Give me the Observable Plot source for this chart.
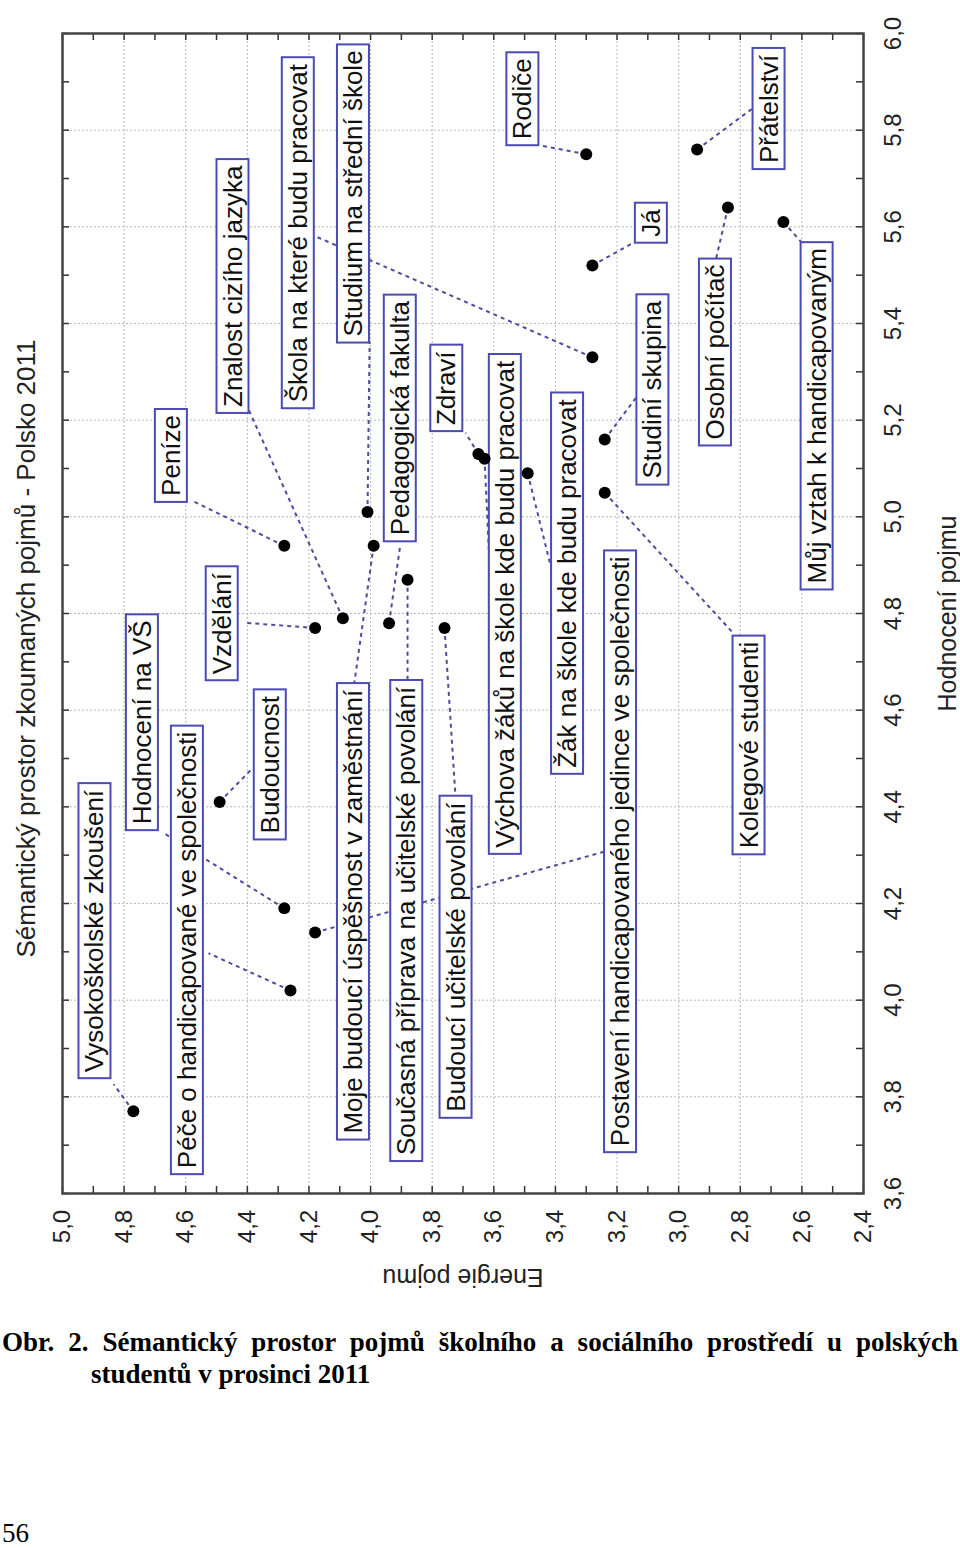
<!DOCTYPE html>
<html>
<head>
<meta charset="utf-8">
<script src="https://cdn.jsdelivr.net/npm/d3@7"></script>
<script src="https://cdn.jsdelivr.net/npm/@observablehq/plot@0.6"></script>
<style>
  html, body { margin: 0; padding: 0; background: #fff; }
  body { width: 960px; height: 1548px; position: relative; overflow: hidden; }
  #chart { position: absolute; left: 0; top: 0; }
  .cap { position: absolute; left: 0; top: 1326px; width: 867px; padding-left: 91px; text-indent: -89px;
         font: bold 27px/32px "Liberation Serif", "Times New Roman", serif; text-align: justify; color: #000; }
  .page { position: absolute; left: 2px; top: 1520px; font: 27px/27px "Liberation Serif", "Times New Roman", serif; color: #000; }
</style>
</head>
<body>
<div id="chart"></div>
<div class="cap">Obr. 2. Sémantický prostor pojmů školního a sociálního prostředí u polských studentů v prosinci 2011</div>
<div class="page">56</div>
<script>
const title = "Sémantický prostor zkoumaných pojmů - Polsko 2011";
const xLabel = "Energie pojmu";
const yLabel = "Hodnocení pojmu";

const concepts = [
  "Vysokoškolské zkoušení", "Péče o handicapované ve společnosti", "Hodnocení na VŠ", "Budoucnost",
  "Vzdělání", "Peníze", "Znalost cizího jazyka", "Moje budoucí úspěšnost v zaměstnání",
  "Studium na střední škole", "Pedagogická fakulta", "Současná příprava na učitelské povolání",
  "Budoucí učitelské povolání", "Postavení handicapovaného jedince ve společnosti", "Zdraví",
  "Výchova žáků na škole kde budu pracovat", "Žák na škole kde budu pracovat",
  "Škola na které budu pracovat", "Rodiče", "Já", "Studiní skupina", "Kolegové studenti",
  "Přátelství", "Osobní počítač", "Můj vztah k handicapovaným"
];
// Energie pojmu (point)
const energy = [4.77, 4.26, 4.28, 4.49, 4.18, 4.28, 4.09, 3.99, 4.01, 3.94, 3.88, 3.76,
                4.18, 3.65, 3.63, 3.49, 3.28, 3.30, 3.28, 3.24, 3.24, 2.94, 2.84, 2.66];
// Hodnocení pojmu (point)
const rating = [3.77, 4.02, 4.19, 4.41, 4.77, 4.94, 4.79, 4.94, 5.01, 4.78, 4.87, 4.77,
                4.14, 5.13, 5.12, 5.09, 5.33, 5.75, 5.52, 5.16, 5.05, 5.76, 5.64, 5.61];
// label anchor (data units)
const labelEnergy = [4.894, 4.594, 4.740, 4.325, 4.481, 4.646, 4.446, 4.055, 4.055, 3.903, 3.882, 3.722,
                     3.188, 3.752, 3.562, 3.360, 4.234, 3.505, 3.088, 3.083, 2.771, 2.706, 2.880, 2.550];
const labelRating = [4.143, 4.104, 4.575, 4.487, 4.779, 5.127, 5.477, 4.183, 5.669, 5.204, 4.164, 4.089,
                     4.308, 5.266, 4.819, 4.862, 5.587, 5.865, 5.608, 5.263, 4.528, 5.844, 5.341, 5.209];
// leader line end (data units)
const leaderEnergy = [4.834, 4.526, 4.672, 4.383, 4.412, 4.578, 4.396, 4.055, 4.003, 3.903, 3.880, 3.724,
                      3.237, 3.692, 3.610, 3.409, 4.185, 3.448, 3.136, 3.133, 2.821, 2.760, 2.880, 2.597];
const leaderRating = [3.826, 4.097, 4.346, 4.480, 4.781, 5.033, 5.222, 4.646, 5.362, 4.944, 4.656, 4.418,
                      4.308, 5.174, 4.847, 4.882, 5.582, 5.768, 5.571, 5.251, 4.758, 5.845, 5.530, 5.565];

const energyTicks = [5.0, 4.8, 4.6, 4.4, 4.2, 4.0, 3.8, 3.6, 3.4, 3.2, 3.0, 2.8, 2.6, 2.4];
const ratingTicks = [3.6, 3.8, 4.0, 4.2, 4.4, 4.6, 4.8, 5.0, 5.2, 5.4, 5.6, 5.8, 6.0];
const energyMinor = d3.range(24, 51).map(d => d / 10);
const ratingMinor = d3.range(36, 61).map(d => d / 10);

const items = concepts.map((name, i) => ({
  name, e: energy[i], h: rating[i],
  le: labelEnergy[i], lh: labelRating[i],
  ce: leaderEnergy[i], ch: leaderRating[i]
}));

const W = 960, H = 1300, mL = 62, mR = 97, mT = 33, mB = 107;
const plotW = W - mL - mR, plotH = H - mT - mB;
const fmt = d => d.toFixed(1).replace(".", ",");
const font = '"Liberation Sans", Arial, sans-serif';

const chart = Plot.plot({
  width: W, height: H,
  marginLeft: mL, marginRight: mR, marginTop: mT, marginBottom: mB,
  style: { fontFamily: font, background: "white", color: "#111" },
  x: { domain: [5.0, 2.4] },
  y: { domain: [3.6, 6.0] },
  marks: [
    Plot.gridX(energyTicks, { stroke: "#b8b8b8", strokeOpacity: 1, strokeDasharray: "2,2" }),
    Plot.gridY(ratingTicks, { stroke: "#b8b8b8", strokeOpacity: 1, strokeDasharray: "2,2" }),
    Plot.tickX(energyMinor, { x: d => d, insetTop: plotH - 7, stroke: "#333", strokeWidth: 1.5 }),
    Plot.tickX(energyMinor, { x: d => d, insetBottom: plotH - 7, stroke: "#333", strokeWidth: 1.5 }),
    Plot.tickY(ratingMinor, { y: d => d, insetLeft: plotW - 7, stroke: "#333", strokeWidth: 1.5 }),
    Plot.tickY(ratingMinor, { y: d => d, insetRight: plotW - 7, stroke: "#333", strokeWidth: 1.5 }),
    Plot.frame({ stroke: "#444", strokeWidth: 2.5 }),
    Plot.axisX(energyTicks, { anchor: "bottom", tickSize: 0, tickRotate: -90, textAnchor: "middle",
      lineAnchor: "middle", tickPadding: 33, fontSize: 24, tickFormat: fmt, label: null, fill: "#222" }),
    Plot.axisY(ratingTicks, { anchor: "right", tickSize: 0, tickRotate: -90, textAnchor: "middle",
      lineAnchor: "middle", tickPadding: 30, fontSize: 24, tickFormat: fmt, label: null, fill: "#222" }),
    Plot.text([xLabel], { text: d => d, frameAnchor: "bottom", textAnchor: "middle", lineAnchor: "middle",
      dy: 83, rotate: 180, fontSize: 25, fill: "#222" }),
    Plot.text([yLabel], { text: d => d, frameAnchor: "right", textAnchor: "middle", lineAnchor: "middle",
      dx: 84, rotate: -90, fontSize: 25, fill: "#222" }),
    Plot.text([title], { text: d => d, frameAnchor: "left", textAnchor: "middle", lineAnchor: "middle",
      dx: -36, dy: 35, rotate: -90, fontSize: 26, fill: "#222" }),
    Plot.link(items, { x1: "e", y1: "h", x2: "ce", y2: "ch", stroke: "#4d4d9e", strokeWidth: 2,
      strokeDasharray: "4,4" }),
    Plot.text(items, { x: "le", y: "lh", text: "name", rotate: -90, fontSize: 26, fill: "#111" }),
    Plot.dot(items, { x: "e", y: "h", r: 6, fill: "#000", stroke: "none" })
  ]
});
document.getElementById("chart").append(chart);

// draw boxes behind concept labels
const nameSet = new Set(concepts);
const NS = "http://www.w3.org/2000/svg";
chart.querySelectorAll("text").forEach(t => {
  if (!nameSet.has(t.textContent)) return;
  const bb = t.getBBox();
  const r = document.createElementNS(NS, "rect");
  r.setAttribute("x", bb.x - 6);
  r.setAttribute("y", bb.y - 1);
  r.setAttribute("width", bb.width + 12);
  r.setAttribute("height", bb.height + 2);
  const tr = t.getAttribute("transform");
  if (tr) r.setAttribute("transform", tr);
  r.setAttribute("fill", "#fff");
  r.setAttribute("stroke", "#4b4bb3");
  r.setAttribute("stroke-width", "2");
  t.parentNode.insertBefore(r, t);
});
</script>
</body>
</html>
